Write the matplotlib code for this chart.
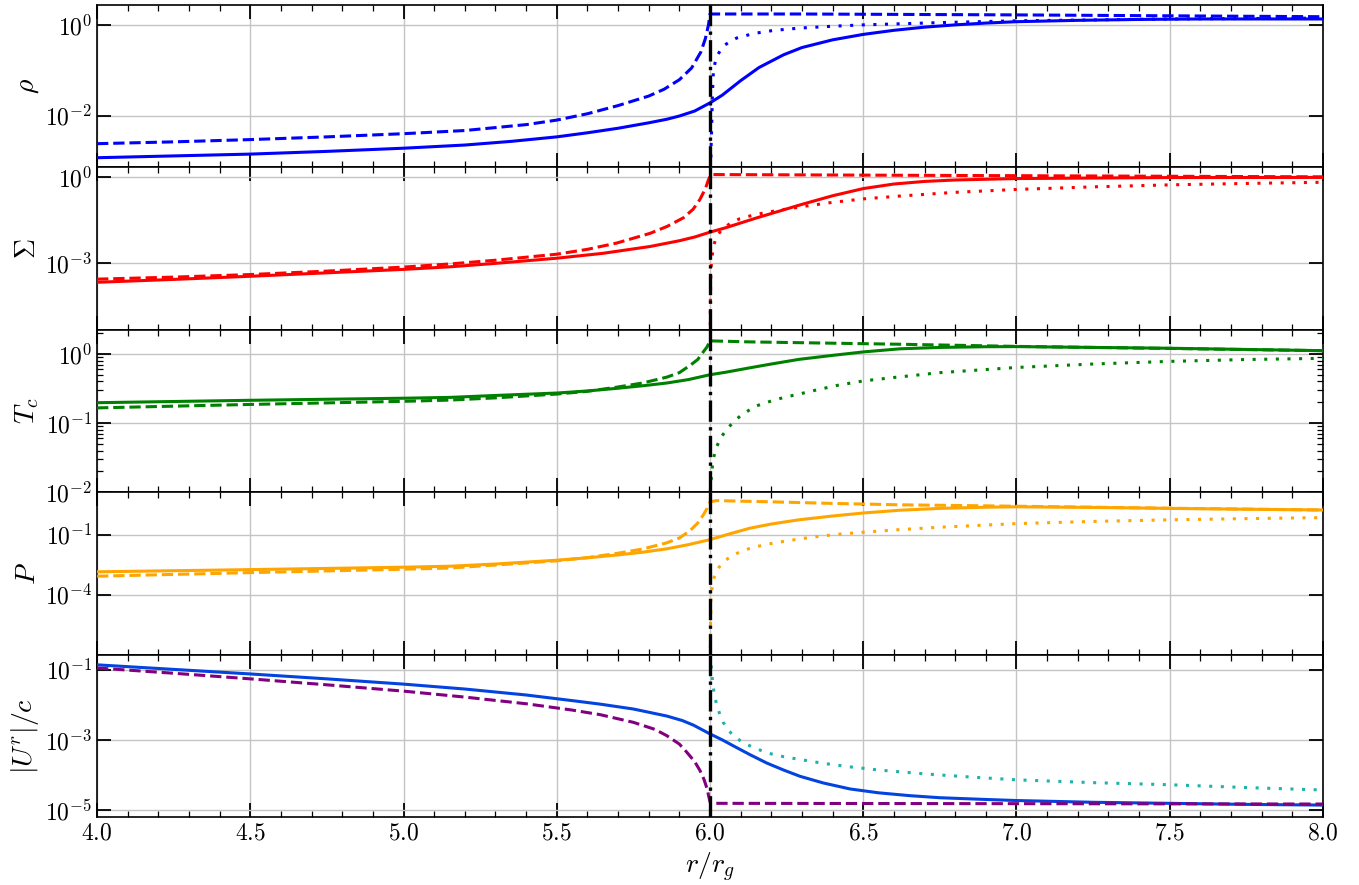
import numpy as np
import matplotlib
matplotlib.use("Agg")
import matplotlib.pyplot as plt
from matplotlib.ticker import FixedLocator, NullLocator, LogLocator, MultipleLocator, FuncFormatter

plt.rcParams['mathtext.fontset'] = 'cm'
plt.rcParams['font.family'] = ['DejaVu Serif']

# ---------------- data (log10 of values) ----------------
# rho
rho_solid_x = [4.0, 4.25, 4.5, 4.75, 5.0, 5.2, 5.35, 5.5, 5.6, 5.7, 5.8, 5.86, 5.9, 5.95, 6.0,
               6.04, 6.1, 6.16, 6.24, 6.3, 6.4, 6.5, 6.6, 6.7, 6.8, 6.9, 7.0, 7.2, 7.4, 7.6, 8.0]
rho_solid_lg = [-2.93, -2.89, -2.85, -2.79, -2.72, -2.65, -2.57, -2.47, -2.38, -2.28, -2.16, -2.08, -2.01, -1.90, -1.72,
                -1.55, -1.23, -0.94, -0.66, -0.50, -0.33, -0.21, -0.12, -0.05, 0.0, 0.04, 0.07, 0.10, 0.12, 0.13, 0.13]
rho_dash_x = [4.0, 4.25, 4.5, 4.75, 5.0, 5.2, 5.4, 5.5, 5.6, 5.7, 5.8, 5.85, 5.9, 5.94, 5.97, 5.985, 5.995, 6.0,
              6.3, 7.0, 8.0]
rho_dash_lg = [-2.62, -2.58, -2.53, -2.47, -2.40, -2.33, -2.20, -2.10, -1.96, -1.78, -1.57, -1.42, -1.21, -0.95, -0.60, -0.30, 0.0, 0.24,
               0.24, 0.22, 0.18]
rho_dot_x = [6.0, 6.003, 6.005, 6.008, 6.011, 6.016, 6.022, 6.033, 6.049, 6.07, 6.087, 6.12, 6.152, 6.2, 6.228, 6.294,
             6.4, 6.5, 6.75, 7.0, 7.5, 8.0]
rho_dot_lg = [-6.0, -2.8, -2.38, -1.5, -1.03, -0.85, -0.70, -0.57, -0.44, -0.35, -0.29, -0.23, -0.18, -0.13, -0.11, -0.07,
              -0.03, 0.0, 0.05, 0.09, 0.13, 0.15]

# Sigma
sig_solid_x = [4.0, 4.25, 4.5, 4.75, 5.0, 5.152, 5.3, 5.5, 5.65, 5.805, 5.9, 5.95, 6.0,
               6.05, 6.1, 6.15, 6.2, 6.3, 6.4, 6.5, 6.6, 6.7, 6.8, 7.0, 7.5, 8.0]
sig_solid_lg = [-3.67, -3.57, -3.46, -3.34, -3.22, -3.13, -3.01, -2.83, -2.66, -2.42, -2.22, -2.09, -1.92,
                -1.77, -1.60, -1.43, -1.27, -0.95, -0.65, -0.40, -0.24, -0.15, -0.10, -0.05, -0.015, -0.01]
sig_dash_x = [4.0, 4.25, 4.5, 4.75, 5.0, 5.152, 5.3, 5.5, 5.6, 5.696, 5.805, 5.86, 5.913, 5.945, 5.967, 5.985, 5.995, 6.003,
              6.5, 7.0, 8.0]
sig_dash_lg = [-3.56, -3.49, -3.40, -3.28, -3.14, -3.03, -2.90, -2.69, -2.52, -2.30, -1.96, -1.72, -1.42, -1.12, -0.78, -0.40, -0.09, 0.09,
               0.07, 0.05, 0.01]
sig_dot_x = [6.0, 6.001, 6.003, 6.007, 6.012, 6.018, 6.026, 6.035, 6.05, 6.065, 6.08, 6.098, 6.125, 6.152, 6.2, 6.3, 6.4,
             6.5, 6.62, 6.8, 7.0, 7.25, 7.5, 7.75, 8.0]
sig_dot_lg = [-8.0, -4.49, -3.21, -2.75, -2.40, -2.17, -2.01, -1.88, -1.74, -1.62, -1.53, -1.45, -1.37, -1.30, -1.20, -1.03, -0.88,
              -0.76, -0.66, -0.53, -0.43, -0.34, -0.27, -0.22, -0.18]

# T_c
tc_solid_x = [4.0, 4.5, 5.0, 5.152, 5.3, 5.5, 5.6, 5.696, 5.78, 5.859, 5.93, 6.0,
              6.05, 6.13, 6.2, 6.29, 6.4, 6.5, 6.62, 6.75, 6.9, 7.0, 7.5, 8.0]
tc_solid_lg = [-0.705, -0.67, -0.64, -0.628, -0.60, -0.565, -0.535, -0.497, -0.46, -0.42, -0.37, -0.30,
               -0.265, -0.20, -0.145, -0.078, -0.02, 0.03, 0.075, 0.095, 0.105, 0.107, 0.083, 0.048]
tc_dash_x = [4.0, 4.5, 5.0, 5.152, 5.3, 5.5, 5.6, 5.696, 5.78, 5.859, 5.9, 5.935, 5.96, 5.978, 5.99, 6.0,
             6.13, 6.62, 7.0, 7.5, 8.0]
tc_dash_lg = [-0.78, -0.73, -0.685, -0.667, -0.635, -0.58, -0.54, -0.48, -0.42, -0.335, -0.27, -0.165, -0.08, 0.03, 0.10, 0.19,
              0.175, 0.141, 0.11, 0.08, 0.048]
tc_dot_x = [6.0, 6.001, 6.004, 6.007, 6.012, 6.018, 6.035, 6.05, 6.065, 6.08, 6.098, 6.125, 6.152, 6.2, 6.24, 6.3, 6.348,
            6.42, 6.5, 6.6, 6.75, 7.0, 7.25, 7.5, 7.75, 8.0]
tc_dot_lg = [-3.0, -1.99, -1.80, -1.65, -1.50, -1.38, -1.21, -1.12, -1.04, -0.97, -0.90, -0.82, -0.75, -0.68, -0.63, -0.57, -0.52,
             -0.45, -0.39, -0.34, -0.27, -0.195, -0.145, -0.107, -0.08, -0.063]

# P
p_solid_x = [4.0, 4.5, 5.0, 5.152, 5.3, 5.5, 5.6, 5.696, 5.78, 5.859, 5.93, 6.0,
             6.06, 6.13, 6.2, 6.29, 6.4, 6.5, 6.62, 6.75, 6.9, 7.0, 7.25, 7.5, 7.75, 8.0]
p_solid_lg = [-2.86, -2.75, -2.63, -2.58, -2.47, -2.28, -2.16, -2.02, -1.88, -1.71, -1.50, -1.25,
              -0.98, -0.68, -0.47, -0.26, -0.07, 0.08, 0.22, 0.31, 0.37, 0.39, 0.36, 0.31, 0.27, 0.23]
p_dash_x = [4.0, 4.5, 5.0, 5.152, 5.3, 5.5, 5.6, 5.696, 5.78, 5.859, 5.9, 5.935, 5.96, 5.978, 5.99, 6.0, 6.02,
            6.2, 6.4, 6.62, 7.0, 7.5, 8.0]
p_dash_lg = [-3.08, -2.90, -2.73, -2.67, -2.52, -2.31, -2.15, -1.94, -1.72, -1.41, -1.17, -0.80, -0.42, -0.02, 0.30, 0.64, 0.70,
             0.64, 0.56, 0.49, 0.42, 0.32, 0.23]
p_dot_x = [6.0, 6.0015, 6.003, 6.0055, 6.0085, 6.013, 6.019, 6.03, 6.041, 6.058, 6.076, 6.1, 6.131, 6.18, 6.24, 6.3, 6.348,
           6.42, 6.5, 6.61, 6.75, 7.0, 7.25, 7.5, 7.75, 8.0]
p_dot_lg = [-9.0, -5.84, -4.20, -3.80, -3.46, -3.15, -2.89, -2.62, -2.42, -2.20, -2.02, -1.85, -1.68, -1.50, -1.34, -1.20, -1.10,
            -0.98, -0.88, -0.76, -0.63, -0.45, -0.34, -0.26, -0.20, -0.15]

# |U^r|/c
u_solid_x = [4.0, 4.25, 4.5, 4.75, 5.0, 5.2, 5.4, 5.55, 5.641, 5.75, 5.859, 5.91, 5.946, 6.0,
             6.04, 6.076, 6.13, 6.185, 6.24, 6.294, 6.37, 6.457, 6.55, 6.65, 6.75, 6.9, 7.0, 7.25, 7.5, 7.75, 8.0]
u_solid_lg = [-0.86, -0.99, -1.12, -1.26, -1.41, -1.55, -1.72, -1.88, -1.98, -2.12, -2.32, -2.45, -2.58, -2.83,
              -3.00, -3.17, -3.42, -3.66, -3.86, -4.04, -4.23, -4.40, -4.51, -4.59, -4.65, -4.70, -4.73, -4.78, -4.81, -4.84, -4.86]
u_dash_x = [4.0, 4.25, 4.5, 4.75, 5.0, 5.2, 5.4, 5.55, 5.641, 5.75, 5.82, 5.859, 5.9, 5.924, 5.95, 5.967, 5.98, 5.99, 6.0,
            6.02, 8.0]
u_dash_lg = [-0.95, -1.10, -1.26, -1.43, -1.61, -1.78, -1.97, -2.15, -2.28, -2.50, -2.70, -2.88, -3.12, -3.35, -3.62, -3.87, -4.12, -4.38, -4.77,
             -4.81, -4.83]
u_dot_x = [6.0, 6.003, 6.005, 6.008, 6.011, 6.016, 6.022, 6.032, 6.043, 6.058, 6.076, 6.1, 6.13, 6.185, 6.24, 6.294,
           6.37, 6.457, 6.55, 6.7, 6.85, 7.0, 7.25, 7.5, 7.75, 8.0]
u_dot_lg = [-0.55, -0.66, -1.05, -1.30, -1.53, -1.78, -2.01, -2.27, -2.50, -2.70, -2.88, -3.03, -3.17, -3.37, -3.48, -3.56,
            -3.67, -3.77, -3.86, -3.97, -4.06, -4.14, -4.22, -4.28, -4.36, -4.43]

x_ticks = [4.0, 4.5, 5.0, 5.5, 6.0, 6.5, 7.0, 7.5, 8.0]
ylabels = [r'$\rho$', r'$\Sigma$', r'$T_c$', r'$P$', r'$|U^r|/c$']
ymajor = [[1e0, 1e-2], [1e0, 1e-3], [1e0, 1e-1, 1e-2], [1e-1, 1e-4], [1e-1, 1e-3, 1e-5]]
ylims = [(7.2e-4, 2.75), (4.7e-6, 2.19), (1e-2, 2.24), (1.0e-7, 13.2), (6.3e-6, 0.27)]
r_isco = 6.0

panels = [
    ('#0000ff', '#0000ff', '#0000ff', rho_solid_x, rho_solid_lg, rho_dash_x, rho_dash_lg, rho_dot_x, rho_dot_lg),
    ('#ff0000', '#ff0000', '#ff0000', sig_solid_x, sig_solid_lg, sig_dash_x, sig_dash_lg, sig_dot_x, sig_dot_lg),
    ('#008000', '#008000', '#008000', tc_solid_x, tc_solid_lg, tc_dash_x, tc_dash_lg, tc_dot_x, tc_dot_lg),
    ('#ffa500', '#ffa500', '#ffa500', p_solid_x, p_solid_lg, p_dash_x, p_dash_lg, p_dot_x, p_dot_lg),
    ('#0343df', '#800080', '#20b2aa', u_solid_x, u_solid_lg, u_dash_x, u_dash_lg, u_dot_x, u_dot_lg),
]

fig, axes = plt.subplots(5, 1, sharex=True, figsize=(13.59, 8.85), dpi=100)
fig.subplots_adjust(left=0.0714, right=0.9735, top=0.9944, bottom=0.0768, hspace=0)

lw = 2.2
for i, (ax, p) in enumerate(zip(axes, panels)):
    c_s, c_d, c_o, sx, sy, dx, dy, ox, oy = p
    ax.set_yscale('log')
    ax.plot(sx, 10.0 ** np.asarray(sy), color=c_s, lw=lw, ls='-', zorder=3)
    ax.plot(dx, 10.0 ** np.asarray(dy), color=c_d, lw=lw, ls='--', zorder=3)
    ax.plot(ox, 10.0 ** np.asarray(oy), color=c_o, lw=lw, ls=(0, (1, 2.8)), zorder=3)
    ax.axvline(r_isco, color='black', lw=2.4, ls='-.', zorder=4)
    ax.set_xlim(4.0, 8.0)
    ax.set_ylim(*ylims[i])
    ax.yaxis.set_major_locator(FixedLocator(ymajor[i]))
    ax.yaxis.set_major_formatter(FuncFormatter(lambda v, pos: r'$10^{%d}$' % int(round(np.log10(v)))))
    if i == 2:
        ax.yaxis.set_minor_locator(LogLocator(base=10, subs=np.arange(2, 10)))
    else:
        ax.yaxis.set_minor_locator(NullLocator())
    ax.xaxis.set_major_locator(FixedLocator(x_ticks))
    ax.xaxis.set_minor_locator(MultipleLocator(0.1))
    ax.xaxis.set_major_formatter(FuncFormatter(lambda v, pos: r'$%.1f$' % v))
    ax.tick_params(which='both', direction='in', top=True, right=True, labelsize=17)
    ax.tick_params(which='major', length=10, width=1.3)
    ax.tick_params(which='minor', length=4.5, width=0.9)
    ax.grid(True, which='major', color='#c4c4c4', lw=1.0)
    ax.set_axisbelow(True)
    for s in ax.spines.values():
        s.set_linewidth(1.2)
    ax.set_ylabel(ylabels[i], fontsize=20)
    ax.yaxis.set_label_coords(-0.046, 0.5)

axes[-1].set_xlabel(r'$r/r_g$', fontsize=20)

fig.savefig('out.png', dpi=100)
